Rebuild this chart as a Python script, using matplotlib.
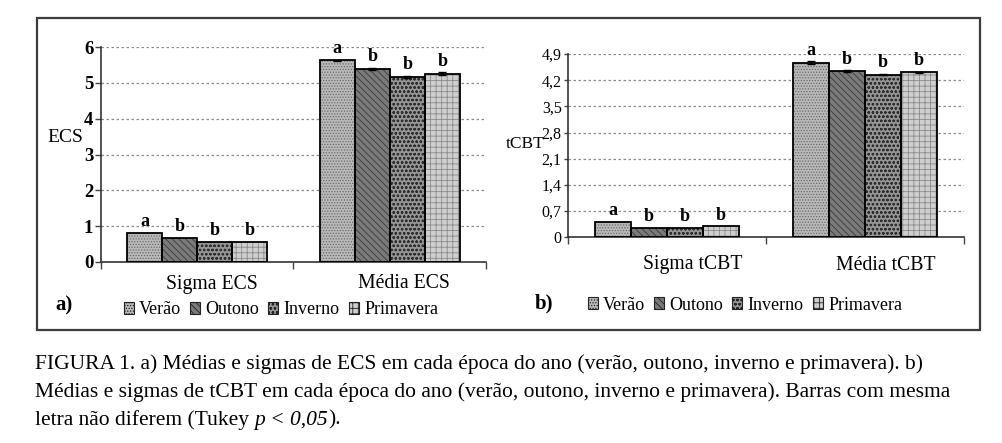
import matplotlib
matplotlib.use("Agg")
import matplotlib.pyplot as plt
from matplotlib.patches import Rectangle, Patch
import numpy as np

# ---------------- data ----------------
seasons = ["Verão", "Outono", "Inverno", "Primavera"]
ecs_categories = ["Sigma ECS", "Média ECS"]
ecs_sigma = [0.81, 0.67, 0.56, 0.57]
ecs_media = [5.63, 5.38, 5.16, 5.26]
ecs_media_err = [0.02, 0.03, 0.03, 0.03]
ecs_letters = [["a", "b", "b", "b"], ["a", "b", "b", "b"]]
ecs_ticks = [0, 1, 2, 3, 4, 5, 6]
ecs_ticklabels = ["0", "1", "2", "3", "4", "5", "6"]

tcbt_categories = ["Sigma tCBT", "Média tCBT"]
tcbt_sigma = [0.41, 0.26, 0.26, 0.29]
tcbt_media = [4.67, 4.44, 4.35, 4.41]
tcbt_media_err = [0.03, 0.02, 0.02, 0.02]
tcbt_letters = [["a", "b", "b", "b"], ["a", "b", "b", "b"]]
tcbt_ticks = [0, 0.7, 1.4, 2.1, 2.8, 3.5, 4.2, 4.9]
tcbt_ticklabels = ["0", "0,7", "1,4", "2,1", "2,8", "3,5", "4,2", "4,9"]

caption_lines = [
    "FIGURA 1. a) Médias e sigmas de ECS em cada época do ano (verão, outono, inverno e primavera). b)",
    "Médias e sigmas de tCBT em cada época do ano (verão, outono, inverno e primavera). Barras com mesma",
]
caption_last = ["letra não diferem (Tukey ", "p < 0,05", ")."]

# ---------------- style ----------------
SERIF = ["Liberation Serif", "DejaVu Serif"]
plt.rcParams["font.family"] = SERIF
plt.rcParams["hatch.linewidth"] = 0.6

faces = ["#b9b9b9", "#7a7a7a", "#959595", "#cfcfcf"]
hatches = ["......", "\\\\\\\\\\", "oooo", "+++"]
hatch_cols = ["#6a6a6a", "#3a3a3a", "#2e2e2e", "#8a8a8a"]

W, H = 1003, 443
fig = plt.figure(figsize=(W / 100, H / 100), dpi=100)


def fx(px):
    return px / W


def fy(py):
    return 1 - py / H


# outer frame
fig.patches.append(Rectangle((fx(37), fy(330)), fx(980) - fx(37), fy(18) - fy(330),
                             transform=fig.transFigure, fill=False,
                             edgecolor="#3c3c3c", linewidth=1.6))


def panel(rect, sigma, media, media_err, letters, ticks, ticklabels, ylim,
          tick_bold, tick_size, tick_len):
    ax = fig.add_axes(rect)
    n = len(sigma)
    width = 0.182
    offs = (np.arange(n) - (n - 1) / 2) * width
    vals = [sigma, media]
    errs = [[0] * n, media_err]
    for ci in range(2):
        for si in range(n):
            x = ci + offs[si]
            v = vals[ci][si]
            ax.bar(x, v, width, color=faces[si], hatch=hatches[si],
                   edgecolor=hatch_cols[si], linewidth=0, zorder=2)
            ax.bar(x, v, width, fill=False, edgecolor="black", linewidth=1.3, zorder=3)
            e = errs[ci][si]
            if e > 0:
                ax.errorbar(x, v, yerr=e, fmt="none", ecolor="black",
                            elinewidth=1.0, capsize=3, capthick=1.0, zorder=4)
            ax.annotate(letters[ci][si], (x, v + e), xytext=(0, 2),
                        textcoords="offset points", ha="center", va="bottom",
                        fontsize=13, fontweight="bold", family=SERIF)
    ax.set_xlim(-0.5, 1.5)
    ax.set_ylim(*ylim)
    ax.set_xticks([-0.5, 0.5, 1.5])
    ax.set_xticklabels([])
    ax.tick_params(axis="x", direction="out", length=5, width=1, color="#444444")
    ax.set_yticks(ticks)
    ax.set_yticklabels(ticklabels, fontsize=tick_size,
                       fontweight="bold" if tick_bold else "normal")
    ax.tick_params(axis="y", direction="out", length=tick_len, width=1,
                   color="#444444", pad=1.5)
    for t in ticks[1:]:
        ax.axhline(t, color="#8c8c8c", linewidth=0.9, linestyle=(0, (2, 2)), zorder=1)
    for s in ["top", "right"]:
        ax.spines[s].set_visible(False)
    for s in ["left", "bottom"]:
        ax.spines[s].set_color("#333333")
        ax.spines[s].set_linewidth(1.2)
    ax.patch.set_alpha(0)
    return ax


axL = panel([fx(101), fy(262), fx(486) - fx(101), fy(47) - fy(262)],
            ecs_sigma, ecs_media, ecs_media_err, ecs_letters, ecs_ticks, ecs_ticklabels,
            (0, 6), True, 13.5, 4)
axR = panel([fx(568), fy(237.3), fx(964) - fx(568), fy(54) - fy(237.3)],
            tcbt_sigma, tcbt_media, tcbt_media_err, tcbt_letters, tcbt_ticks, tcbt_ticklabels,
            (0, 4.9), False, 11.5, 3)

# y labels
fig.text(fx(65), fy(138), "ECS", ha="center", va="center", fontsize=14)
fig.text(fx(545), fy(144), "tCBT", ha="right", va="center", fontsize=12.5)

# category labels
for name, x in zip(ecs_categories, [212, 404]):
    fig.text(fx(x), fy(284), name, ha="center", va="center", fontsize=14.2)
for name, x in zip(tcbt_categories, [693, 886]):
    fig.text(fx(x), fy(265), name, ha="center", va="center", fontsize=14.2)

# panel tags
fig.text(fx(55), fy(305), "a)", ha="left", va="center", fontsize=15, fontweight="bold")
fig.text(fx(535), fy(303), "b)", ha="left", va="center", fontsize=15, fontweight="bold")

# legends
handles = [Patch(facecolor=faces[i], hatch=hatches[i], edgecolor="#222222", linewidth=0.8)
           for i in range(len(seasons))]
for cx, cy in [(281, 310), (745, 305)]:
    fig.legend(handles, seasons, loc="center", bbox_to_anchor=(fx(cx), fy(cy)),
               ncol=4, frameon=False, fontsize=13, handlelength=0.55, handleheight=0.65,
               handletextpad=0.3, columnspacing=0.5, borderpad=0, borderaxespad=0)

# caption
cap_kw = dict(fontsize=15.5, ha="left", va="baseline")
ys = [369.5, 397, 424.5]
for line, y in zip(caption_lines, ys):
    fig.text(fx(35), fy(y), line, **cap_kw)
fig.canvas.draw()
renderer = fig.canvas.get_renderer()
xcur = fx(35)
for i, piece in enumerate(caption_last):
    t = fig.text(xcur, fy(ys[2]), piece, style="italic" if i == 1 else "normal", **cap_kw)
    bb = t.get_window_extent(renderer)
    xcur = fig.transFigure.inverted().transform((bb.x1, 0))[0]

fig.savefig("out.png", dpi=100)
